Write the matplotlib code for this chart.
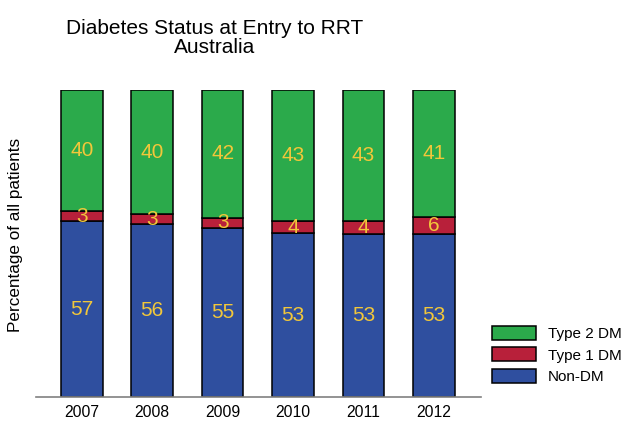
import numpy as np
import matplotlib
matplotlib.use('Agg')
import matplotlib.pyplot as plt

# data (percent of all patients)
years = ['2007', '2008', '2009', '2010', '2011', '2012']
non_dm = [57.2, 56.2, 55.0, 53.3, 53.2, 53.1]
type1_dm = [3.3, 3.4, 3.4, 4.0, 4.2, 5.6]
type2_dm = [39.6, 40.4, 41.6, 42.7, 42.6, 41.3]

series_names = ['Non-DM', 'Type 1 DM', 'Type 2 DM']
series_colors = ['#2f4f9f', '#b8203a', '#2baa4b']
label_color = '#f2c73a'

plt.rcParams['font.family'] = ['Liberation Sans', 'DejaVu Sans']

fig = plt.figure(figsize=(6.27, 4.23), dpi=100)
ax = fig.add_axes([36 / 627, 1 - 397 / 423, 445 / 627, 307 / 423])

x = np.arange(len(years))
bottom = np.zeros(len(years))
bars = []
for vals, name, col in zip([non_dm, type1_dm, type2_dm], series_names, series_colors):
    vals = np.array(vals)
    b = ax.bar(x, vals, width=0.59, bottom=bottom, color=col,
               edgecolor='black', linewidth=1.1, label=name)
    bars.append(b)
    for xi, v, b0 in zip(x, vals, bottom):
        ax.text(xi, b0 + v / 2, f'{v:.0f}', ha='center', va='center',
                color=label_color, fontsize=15)
    bottom = bottom + vals

ax.set_xlim(-0.65, 5.67)
ax.set_ylim(0, 100)
ax.set_xticks(x)
ax.set_xticklabels(years, fontsize=11.3)
ax.tick_params(axis='x', length=0, pad=6)
ax.set_yticks([])
for s in ['top', 'right', 'left']:
    ax.spines[s].set_visible(False)
ax.spines['bottom'].set_color('#808080')
ax.spines['bottom'].set_linewidth(1.2)

fig.text(16 / 627, 1 - 235 / 423, 'Percentage of all patients', rotation=90,
         ha='center', va='center', fontsize=12.3)

fig.text(215 / 627, 1 - 38 / 423, 'Diabetes Status at Entry to RRT\nAustralia',
         ha='center', va='center', fontsize=15, linespacing=0.95)

leg = fig.legend(handles=bars[::-1], labels=series_names[::-1],
                 loc='lower left', bbox_to_anchor=(492 / 627, 1 - 384 / 423),
                 frameon=False, fontsize=11, handlelength=2.9, handleheight=1.05,
                 labelspacing=0.4, handletextpad=0.75, borderpad=0, borderaxespad=0)

fig.savefig('out.png', dpi=100)
